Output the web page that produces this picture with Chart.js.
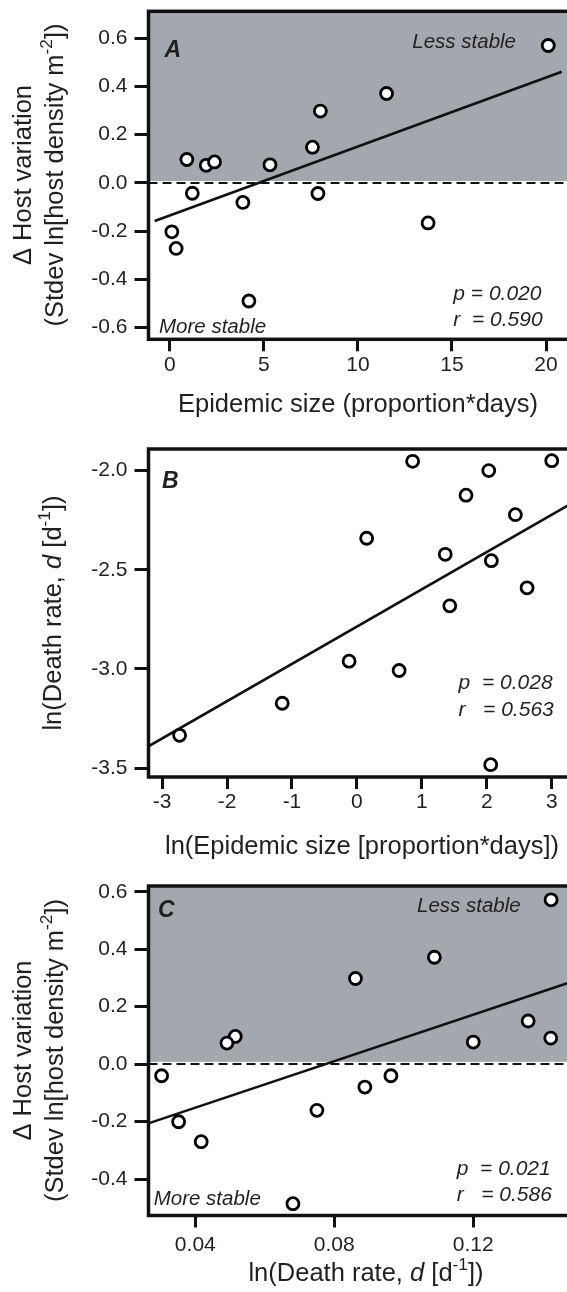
<!DOCTYPE html>
<html>
<head>
<meta charset="utf-8">
<script src="https://cdn.jsdelivr.net/npm/chart.js@4.4.0/dist/chart.umd.min.js"></script>
<style>
  html, body { margin: 0; padding: 0; background: #fff; width: 567px; height: 1292px; overflow: hidden; }
  canvas { position: absolute; left: 0; }
</style>
</head>
<body>
<canvas id="cA" width="600" height="430" style="top:-10px"></canvas>
<canvas id="cB" width="600" height="440" style="top:425px"></canvas>
<canvas id="cC" width="600" height="432" style="top:860px"></canvas>
<script>
const FONT = '"Liberation Sans", Arial, Helvetica, sans-serif';
const INK = '#231f20';
const SHADE = '#a3a8ae';

// Panel A: epidemic size vs change in host variation
const sizeA = [0.9, 1.93, 2.37, 1.19, 0.1, 0.33, 3.88, 4.2, 5.32, 7.58, 8.0, 7.87, 11.52, 13.73, 20.12];
const hostVarA = [0.097, 0.073, 0.087, -0.043, -0.203, -0.272, -0.081, -0.49, 0.075, 0.148, 0.298, -0.044, 0.371, -0.166, 0.570];
const fitA = [[-0.81, -0.158], [20.84, 0.461]];
const xTicksA = [0, 5, 10, 15, 20];
const xLabelsA = ['0', '5', '10', '15', '20'];
const yTicksA = [-0.6, -0.4, -0.2, 0, 0.2, 0.4, 0.6];
const yLabelsA = ['-0.6', '-0.4', '-0.2', '0.0', '0.2', '0.4', '0.6'];

// Panel B: ln epidemic size vs ln death rate
const logSizeB = [0.858, 2.03, 3.0, 1.68, 2.44, 0.15, 1.36, 2.07, 2.62, 1.43, -0.12, 0.65, -1.15, -2.73, 2.06];
const logDeathB = [-1.953, -2.0, -1.95, -2.124, -2.222, -2.341, -2.422, -2.454, -2.591, -2.682, -2.961, -3.008, -3.173, -3.335, -3.483];
const fitB = [[-3.21, -3.390], [3.6, -2.109]];
const xTicksB = [-3, -2, -1, 0, 1, 2, 3];
const xLabelsB = ['-3', '-2', '-1', '0', '1', '2', '3'];
const yTicksB = [-3.5, -3.0, -2.5, -2.0];
const yLabelsB = ['-3.5', '-3.0', '-2.5', '-2.0'];

// Panel C: death rate vs change in host variation
const deathC = [0.1424, 0.1088, 0.0861, 0.1358, 0.1423, 0.12, 0.0515, 0.0491, 0.0303, 0.0963, 0.0888, 0.075, 0.0352, 0.0417, 0.0681];
const hostVarC = [0.572, 0.372, 0.298, 0.150, 0.0905, 0.0766, 0.0963, 0.0731, -0.0406, -0.0406, -0.080, -0.161, -0.2007, -0.270, -0.486];
const fitC = [[0.0265, -0.2063], [0.16, 0.334]];
const xTicksC = [0.04, 0.08, 0.12];
const xLabelsC = ['0.04', '0.08', '0.12'];
const yTicksC = [-0.4, -0.2, 0, 0.2, 0.4, 0.6];
const yLabelsC = ['-0.4', '-0.2', '0.0', '0.2', '0.4', '0.6'];

function toXY(xs, ys) { return xs.map((x, i) => ({ x: x, y: ys[i] })); }

// draws a run of text pieces; style '' normal, 'i' italic, 's' superscript
function rich(ctx, parts, x, y, size, rotated) {
  ctx.save();
  ctx.translate(x, y);
  if (rotated) ctx.rotate(-Math.PI / 2);
  const fontOf = p => (p[1] === 'i' ? 'italic ' : '') + (p[1] === 's' ? size * 0.68 : size) + 'px ' + FONT;
  let w = 0;
  parts.forEach(p => { ctx.font = fontOf(p); w += ctx.measureText(p[0]).width; });
  let cx = -w / 2;
  ctx.fillStyle = INK;
  ctx.textAlign = 'left';
  ctx.textBaseline = 'alphabetic';
  parts.forEach(p => {
    ctx.font = fontOf(p);
    ctx.fillText(p[0], cx, p[1] === 's' ? -size * 0.42 : 0);
    cx += ctx.measureText(p[0]).width;
  });
  ctx.restore();
}

function label(ctx, txt, x, y, font, align) {
  ctx.save();
  ctx.font = font;
  ctx.fillStyle = INK;
  ctx.textAlign = align || 'left';
  ctx.textBaseline = 'alphabetic';
  ctx.fillText(txt, x, y);
  ctx.restore();
}

function panel(id, cfg) {
  const datasets = [
    { data: cfg.points, pointRadius: 6, pointBorderWidth: 2.8, pointBackgroundColor: '#fff', pointBorderColor: '#000' },
    { data: cfg.fit.map(p => ({ x: p[0], y: p[1] })), showLine: true, borderColor: '#111', borderWidth: 2.6, pointRadius: 0 }
  ];
  if (cfg.shade) {
    datasets.push({ data: [{ x: cfg.x[0], y: 0 }, { x: cfg.x[1], y: 0 }], showLine: true, borderColor: '#111', borderWidth: 2, borderDash: [9, 5], pointRadius: 0 });
  }
  const tickFont = { family: FONT, size: 21, lineHeight: 1 };
  return new Chart(document.getElementById(id), {
    type: 'scatter',
    data: { datasets: datasets },
    options: {
      responsive: false,
      animation: false,
      devicePixelRatio: 1,
      layout: { padding: { left: 0, right: 10, top: cfg.padTop, bottom: 0 } },
      plugins: { legend: { display: false }, tooltip: { enabled: false } },
      scales: {
        x: {
          type: 'linear', min: cfg.x[0], max: cfg.x[1],
          afterBuildTicks: s => { s.ticks = cfg.xTicks.map(v => ({ value: v })); },
          afterFit: s => { s.height = cfg.xAxisH; },
          grid: { drawOnChartArea: false, tickLength: 12, tickWidth: 3, tickColor: '#111' },
          border: { display: false },
          ticks: { color: INK, font: tickFont, padding: cfg.xPad, maxRotation: 0, autoSkip: false,
                   callback: (v, i) => cfg.xLabels[i] }
        },
        y: {
          type: 'linear', min: cfg.y[0], max: cfg.y[1],
          afterBuildTicks: s => { s.ticks = cfg.yTicks.map(v => ({ value: v })); },
          afterFit: s => { s.width = 148.5; },
          grid: { drawOnChartArea: false, tickLength: 14, tickWidth: 3, tickColor: '#111' },
          border: { display: false },
          ticks: { color: INK, font: tickFont, padding: 7, autoSkip: false,
                   callback: (v, i) => cfg.yLabels[i] }
        }
      }
    },
    plugins: [{
      id: 'frame',
      beforeDatasetsDraw(chart) {
        const a = chart.chartArea, ctx = chart.ctx, ys = chart.scales.y;
        ctx.save();
        if (cfg.shade) {
          const y0 = ys.getPixelForValue(0.008);
          ctx.fillStyle = SHADE;
          ctx.fillRect(a.left, a.top, a.right - a.left, y0 - a.top);
        }
        ctx.strokeStyle = '#111';
        ctx.lineWidth = 3.5;
        ctx.strokeRect(a.left, a.top, a.right - a.left, a.bottom - a.top);
        ctx.restore();
      },
      afterDraw(chart) {
        const ctx = chart.ctx;
        ctx.save();
        ctx.translate(0, -cfg.top);
        cfg.draw(ctx);
        ctx.restore();
      }
    }]
  });
}

const yTitleHost = [
  [['\u0394 Host variation', '']],
  [['(Stdev ln[host density m', ''], ['-2', 's'], ['])', '']]
];

panel('cA', {
  top: -10, padTop: 21.3, xAxisH: 80.7, xPad: 3, shade: true,
  x: [-1.14, 22.34], y: [-0.649, 0.712],
  points: toXY(sizeA, hostVarA), fit: fitA,
  xTicks: xTicksA, xLabels: xLabelsA, yTicks: yTicksA, yLabels: yLabelsA,
  draw(ctx) {
    label(ctx, 'A', 164.5, 57, 'italic bold 23px ' + FONT);
    label(ctx, 'Less stable', 516, 48, 'italic 20.5px ' + FONT, 'right');
    label(ctx, 'More stable', 159, 333, 'italic 20.5px ' + FONT);
    label(ctx, 'p = 0.020', 453.3, 300, 'italic 21px ' + FONT);
    label(ctx, 'r  = 0.590', 453.3, 326, 'italic 21px ' + FONT);
    rich(ctx, [['Epidemic size (proportion*days)', '']], 358, 411.7, 25.5);
    rich(ctx, yTitleHost[0], 31, 175, 25.5, true);
    rich(ctx, yTitleHost[1], 63, 175, 25.5, true);
  }
});

panel('cB', {
  top: 425, padTop: 24, xAxisH: 88, xPad: 3, shade: false,
  x: [-3.209, 3.589], y: [-3.545, -1.891],
  points: toXY(logSizeB, logDeathB), fit: fitB,
  xTicks: xTicksB, xLabels: xLabelsB, yTicks: yTicksB, yLabels: yLabelsB,
  draw(ctx) {
    label(ctx, 'B', 162, 488, 'italic bold 23px ' + FONT);
    label(ctx, 'p  = 0.028', 458.6, 689.3, 'italic 21px ' + FONT);
    label(ctx, 'r   = 0.563', 458.6, 716, 'italic 21px ' + FONT);
    rich(ctx, [['ln(Epidemic size [proportion*days])', '']], 362, 854, 25.5);
    rich(ctx, [['ln(Death rate, ', ''], ['d', 'i'], [' [d', ''], ['-1', 's'], ['])', '']], 61, 613, 25.5, true);
  }
});

panel('cC', {
  top: 860, padTop: 26, xAxisH: 76.5, xPad: 7, shade: true,
  x: [0.02653, 0.1536], y: [-0.527, 0.62],
  points: toXY(deathC, hostVarC), fit: fitC,
  xTicks: xTicksC, xLabels: xLabelsC, yTicks: yTicksC, yLabels: yLabelsC,
  draw(ctx) {
    label(ctx, 'C', 158, 917, 'italic bold 23px ' + FONT);
    label(ctx, 'Less stable', 520.7, 911.7, 'italic 20.5px ' + FONT, 'right');
    label(ctx, 'More stable', 153.7, 1205, 'italic 20.5px ' + FONT);
    label(ctx, 'p  = 0.021', 456.7, 1175, 'italic 21px ' + FONT);
    label(ctx, 'r   = 0.586', 456.7, 1201, 'italic 21px ' + FONT);
    rich(ctx, [['ln(Death rate, ', ''], ['d', 'i'], [' [d', ''], ['-1', 's'], ['])', '']], 366, 1281, 25.5);
    rich(ctx, yTitleHost[0], 31, 1050.5, 25.5, true);
    rich(ctx, yTitleHost[1], 63, 1050.5, 25.5, true);
  }
});
</script>
</body>
</html>
